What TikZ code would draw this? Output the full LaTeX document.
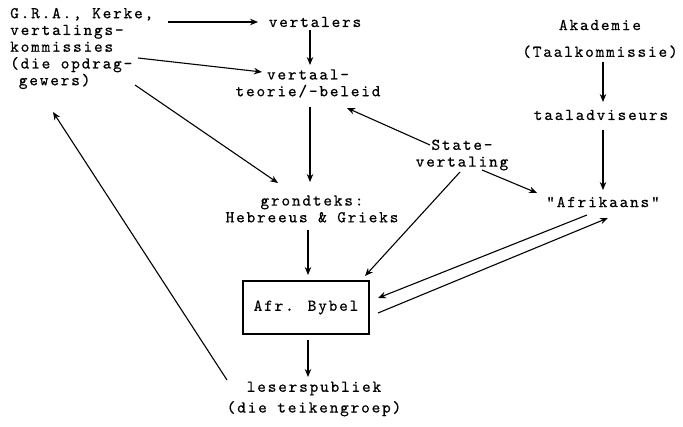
\documentclass[tikz,border=0pt]{standalone}
\usepackage{fontspec}
\usetikzlibrary{arrows.meta,calc}
\newfontfamily\reffam{lmmono10-regular.otf}[LetterSpace=11,FakeBold=0.5]
\newcommand{\reffont}{\reffam\fontsize{16.5}{16.75}\selectfont}
\tikzset{
  txt/.style={font=\reffont, inner sep=0pt},
  arr/.style={-{Stealth[length=8pt,width=6.5pt]}, line width=1.1pt},
  bybox/.style={txt, draw, line width=1.2pt, minimum width=126pt, minimum height=53pt}
}
\begin{document}
\begin{tikzpicture}[x=1pt,y=-1pt]
\useasboundingbox[fill=white] (0,0) rectangle (683,427);
% nodes
\node[txt, anchor=west, align=left] (gra) at (10,48.5)
  {G.R.A., Kerke,\\vertalings-\\kommissies\\(die opdrag-\\\phantom{(}gewers)};
\node[txt] (vertalers) at (315,22) {vertalers};
\node[txt, align=center] (vert) at (308,83.5) {vertaal-\\teorie/-beleid};
\node[txt, align=center] (grond) at (312,209) {grondteks:\\Hebreeus \& Grieks};
\node[bybox] (box) at (306,307.5) {Afr. Bybel};
\node[txt, align=center] (lesers) at (314,399) {leserspubliek\\[4pt](die teikengroep)};
\node[txt, align=center] (state) at (462,155) {State-\\vertaling};
\node[txt, align=center] (akad) at (600,39) {Akademie\\[10pt](Taalkommissie)};
\node[txt] (taal) at (601,115) {taaladviseurs};
\node[txt] (afr) at (603,202) {\char34 Afrikaans\char34};
% connectors
\draw[arr] ($(gra.west)+(158,-26.5)$) -- ($(vertalers)+(-57,0)$);
\draw[arr] ($(vertalers)+(-5,8)$) -- ($(vert)+(2,-18.5)$);
\draw[arr] ($(gra.west)+(128,9.5)$) -- ($(vert)+(-46,-11.5)$);
\draw[arr] ($(gra.west)+(125,36.5)$) -- ($(grond)+(-34,-26)$);
\draw[arr] ($(vert)+(2,23.5)$) -- ($(grond)+(-2,-27)$);
\draw[arr] ($(grond)+(-4,21)$) -- ($(box)+(2,-32.5)$);
\draw[arr] ($(box)+(2,32.5)$) -- ($(lesers)+(-6,-22)$);
\draw[arr] ($(lesers)+(-87,-19)$) -- ($(gra.west)+(43,63.5)$);
\draw[arr] ($(state)+(-32,-10)$) -- ($(vert)+(39,24.5)$);
\draw[arr] ($(state)+(20,15)$) -- ($(afr)+(-66,-9)$);
\draw[arr] ($(state)+(-2,17)$) -- ($(box)+(59,-31.5)$);
\draw[arr] ($(akad)+(3,23)$) -- ($(taal)+(2,-13)$);
\draw[arr] ($(taal)+(2,15)$) -- ($(afr)+(0,-12)$);
\draw[arr] ($(afr)+(-16,13)$) -- ($(box)+(72,-9.5)$);
\draw[arr] ($(box)+(72,5.5)$) -- ($(afr)+(5,16)$);
\end{tikzpicture}
\end{document}
